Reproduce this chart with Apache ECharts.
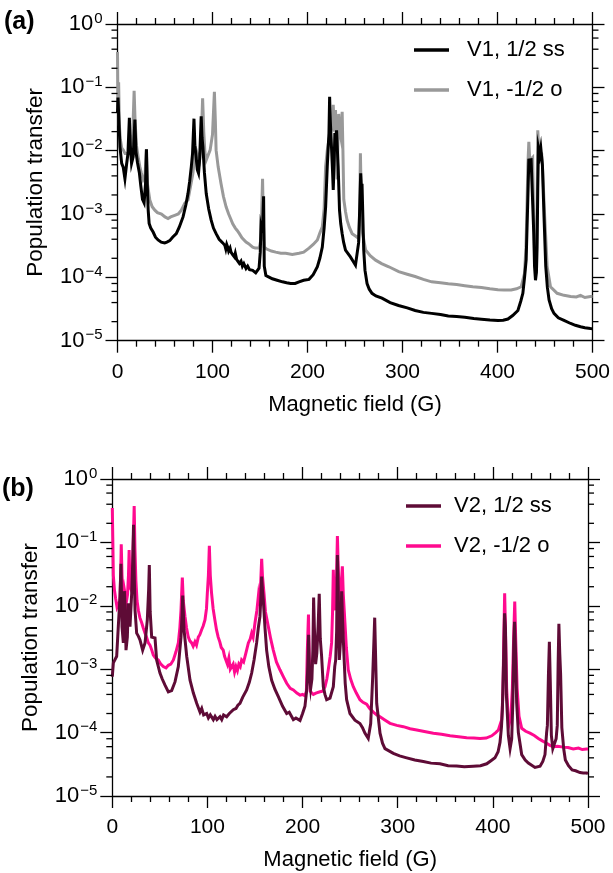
<!DOCTYPE html>
<html>
<head>
<meta charset="utf-8">
<script src="https://cdn.jsdelivr.net/npm/echarts@6/dist/echarts.min.js"></script>
<style>
  html, body { margin: 0; padding: 0; background: #fff; }
  #chart { width: 613px; height: 873px; }
</style>
</head>
<body>
<div id="chart"></div>
<script>
// Population transfer vs magnetic field, [field (G), transfer] pairs.
const v1_ss = [[0,0.04],[0.5,0.069],[1.5,0.03],[2.6,0.0115],[4.4,0.0063],[6,0.0055],[7.8,0.0036],[9.5,0.006],[11,0.009],[12.5,0.033],[13.5,0.012],[14.8,0.0063],[16.5,0.008],[18.3,0.031],[19.5,0.0095],[21,0.0065],[23,0.0045],[24.5,0.0028],[26.3,0.0017],[28,0.0015],[29.5,0.003],[30.5,0.0105],[31.3,0.003],[32.3,0.00115],[33.3,0.00071],[35,0.0006],[37.5,0.00052],[40,0.00043],[42.7,0.00039],[46,0.00036],[49.7,0.00035],[52,0.00036],[55,0.00038],[58,0.00043],[61.9,0.00049],[65,0.00062],[69,0.0009],[72,0.0014],[74.2,0.0021],[76,0.0033],[77.7,0.0056],[79,0.009],[80.5,0.032],[81.5,0.012],[82.9,0.0076],[84,0.005],[85.3,0.0044],[86.5,0.0075],[88.1,0.035],[89,0.016],[89.9,0.0115],[91.5,0.0045],[93.4,0.0021],[96,0.0012],[98.6,0.0008],[101,0.0006],[103.8,0.00049],[107,0.0004],[110.8,0.00035],[113,0.00032],[114,0.00028],[115,0.00033],[116,0.0003],[117,0.00026],[118.5,0.00029],[119.5,0.00025],[121,0.00023],[123,0.00021],[124,0.00024],[125.5,0.00019],[128.3,0.000166],[130,0.00018],[131.5,0.00015],[133,0.000165],[135.3,0.000138],[137,0.00015],[139,0.000132],[142.3,0.000129],[144,0.000135],[145.5,0.000118],[147.5,0.000123],[149,0.00014],[150.3,0.00025],[151,0.00063],[151.8,0.00055],[152.8,0.0006],[153.8,0.0019],[154.5,0.00015],[156.2,0.000107],[160,0.0001],[163,0.000095],[168,0.00009],[173.6,0.000085],[178,0.000082],[182.3,0.00008],[187,0.00008],[191.1,0.000085],[196,0.00009],[201.6,0.000093],[206,0.00011],[210.4,0.000147],[213,0.0002],[215.6,0.0003],[217.5,0.0006],[219.1,0.0013],[220.8,0.0056],[222.6,0.019],[223.3,0.071],[224,0.03],[225.4,0.0102],[226.3,0.005],[227.1,0.0024],[228,0.006],[228.8,0.019],[229.7,0.012],[230.6,0.021],[231.5,0.01],[232.3,0.0056],[233.7,0.00115],[235,0.0007],[236.5,0.00049],[238,0.00036],[240,0.00027],[242.5,0.00024],[245.2,0.00021],[248,0.00018],[250.5,0.000156],[252.6,0.00016],[253.8,0.00035],[254.7,0.0009],[256,0.0044],[256.8,0.0025],[257.4,0.003],[258.3,0.0009],[259.2,0.00027],[260.5,0.00013],[262.7,0.00008],[265,0.000065],[267.9,0.000056],[272,0.000051],[278.4,0.000047],[287,0.00004],[295.8,0.000036],[305,0.000033],[313.3,0.00003],[322,0.000028],[330.7,0.000027],[340,0.000026],[348.2,0.0000245],[357,0.000024],[365.6,0.0000234],[375,0.0000225],[383.1,0.0000219],[392,0.0000213],[400.5,0.0000209],[406,0.000021],[411,0.000022],[416,0.000025],[421.5,0.00003],[424.5,0.000042],[426.7,0.000056],[428.5,0.0001],[430.2,0.00019],[431.9,0.00165],[433,0.0071],[434.2,0.0068],[435.4,0.0072],[437.2,0.0075],[438.2,0.00049],[439,0.00015],[440,0.00009],[441,0.00012],[441.7,0.0003],[442.4,0.0025],[443.1,0.011],[444.5,0.0085],[445.6,0.011],[447.3,0.0059],[449,0.0009],[450.8,0.00015],[452.5,0.00007],[454.3,0.000044],[457,0.000032],[459.5,0.000027],[464,0.000023],[470,0.000021],[477,0.0000187],[482,0.0000175],[487.4,0.0000166],[492,0.000016],[497.9,0.0000156],[500,0.0000155]];

const v1_o = [[0,0.36],[0.5,0.05],[1.2,0.12],[2,0.025],[3,0.015],[4.5,0.011],[6.1,0.0102],[8,0.009],[10,0.0085],[12,0.009],[14,0.011],[16,0.018],[17.5,0.088],[18.5,0.03],[20,0.012],[22,0.0075],[23.5,0.0056],[25,0.0045],[27,0.0035],[29,0.004],[30.3,0.0105],[31.5,0.003],[34,0.00166],[36.5,0.0013],[39.3,0.00115],[42,0.00105],[46.3,0.001],[50,0.0009],[53.2,0.00085],[56,0.0009],[60.2,0.00095],[64,0.001],[67.2,0.00115],[71,0.0015],[74.2,0.00166],[77,0.0028],[79.4,0.0044],[81,0.0075],[82.9,0.0102],[84.5,0.0085],[86.4,0.0071],[88,0.012],[89.6,0.067],[90.8,0.02],[92,0.0095],[93.4,0.0071],[95,0.0075],[97.5,0.0102],[100,0.018],[102,0.085],[103,0.03],[103.8,0.0102],[106,0.0055],[109,0.003],[111.5,0.0019],[114.3,0.0013],[117,0.001],[119,0.00085],[121.3,0.0007],[124,0.0006],[126,0.00055],[128.3,0.00049],[131,0.00042],[133,0.0004],[135.3,0.00036],[138,0.00034],[140,0.00032],[142.3,0.0003],[145,0.00029],[147,0.0003],[149.3,0.00029],[151,0.0004],[152.7,0.0036],[153.5,0.0008],[154.5,0.0003],[157,0.00028],[162,0.00026],[166.5,0.00025],[172,0.00024],[177,0.00024],[184,0.00023],[191.1,0.00024],[196,0.00025],[201.6,0.00029],[206,0.00033],[210.4,0.00039],[213,0.0005],[215.6,0.00063],[217.5,0.0012],[219.1,0.0056],[220.8,0.01],[222.5,0.015],[224.5,0.02],[226,0.025],[227.1,0.053],[228.3,0.02],[229.5,0.044],[230.5,0.012],[231.2,0.0035],[232,0.012],[232.9,0.038],[234,0.02],[235.5,0.015],[236.5,0.041],[237.3,0.01],[238.2,0.0017],[240,0.0011],[241.7,0.0008],[244,0.00062],[247,0.00049],[250.5,0.00045],[254,0.00041],[255,0.0012],[255.7,0.0091],[256.8,0.0012],[258,0.0005],[261.2,0.00027],[266,0.00022],[271.7,0.000187],[278,0.000165],[285.6,0.000147],[296,0.000123],[305,0.000112],[313.3,0.000103],[322,0.000093],[330.7,0.000085],[340,0.000082],[348.2,0.000079],[357,0.000077],[365.6,0.000074],[374,0.000071],[383.1,0.000069],[392,0.000066],[400.5,0.000064],[407,0.000063],[414.4,0.000063],[420,0.000066],[424.9,0.000071],[428.4,0.000115],[430,0.0003],[431.2,0.00166],[432,0.006],[433,0.0138],[434,0.007],[435.5,0.0072],[437,0.0078],[438,0.0011],[439,0.00025],[440.3,0.000115],[441.3,0.0004],[442.4,0.021],[443.5,0.01],[445,0.0095],[446.5,0.009],[447.3,0.006],[449.7,0.0009],[452.3,0.000147],[455.8,0.000071],[462.8,0.000056],[470,0.000052],[477,0.00005],[483,0.000049],[487.4,0.000052],[492,0.000048],[497.9,0.00005],[500,0.00005]];

const v2_ss = [[0,0.00076],[1.1,0.00126],[3,0.0013],[4.6,0.0016],[6.3,0.0047],[8.1,0.014],[9.1,0.046],[10.2,0.0047],[11.6,0.0026],[12.7,0.017],[13.4,0.0105],[14.4,0.002],[15.8,0.0032],[16.9,0.011],[18,0.0105],[18.6,0.0047],[20.4,0.016],[21.5,0.05],[22.3,0.19],[23.1,0.03],[23.9,0.0085],[25.6,0.0037],[27.5,0.0033],[29.1,0.0029],[31.9,0.002],[34.4,0.0026],[36.8,0.006],[38.2,0.018],[38.9,0.044],[39.8,0.008],[41.4,0.0032],[43,0.0034],[44.9,0.0031],[46.6,0.0014],[50.1,0.00087],[52.5,0.0007],[55.4,0.00056],[58.9,0.00044],[62.4,0.00046],[65.9,0.00063],[69.4,0.0011],[72.2,0.0032],[73.3,0.007],[74,0.0145],[74.8,0.007],[75.4,0.0042],[78.2,0.0016],[81.7,0.00067],[85.2,0.00042],[88.7,0.00029],[92.2,0.00021],[94,0.00024],[96,0.00019],[99.2,0.0002],[101,0.00017],[103,0.00019],[106.2,0.00016],[108,0.00018],[110,0.00016],[113.2,0.000178],[115,0.00016],[117,0.00019],[120.2,0.000178],[123,0.0002],[125,0.00019],[127.2,0.00023],[130,0.00024],[132,0.00027],[134.2,0.00029],[137,0.00036],[139,0.00035],[141.2,0.00047],[144,0.00062],[146.5,0.00087],[149,0.0014],[151.7,0.0026],[153.5,0.0045],[155.2,0.0068],[156.3,0.015],[157,0.029],[157.8,0.018],[158.7,0.0123],[160.5,0.0045],[162.2,0.002],[164.5,0.0011],[167.5,0.00067],[171,0.00048],[174.5,0.00037],[179,0.00026],[183.3,0.0002],[186,0.00021],[190.3,0.00016],[193,0.00017],[197.3,0.000155],[200,0.0002],[202.5,0.00026],[204.5,0.0005],[205.5,0.0011],[206.3,0.0035],[207.3,0.0008],[208.5,0.0005],[209.8,0.0007],[210.8,0.002],[211.6,0.0135],[212.4,0.0045],[213.7,0.0012],[215,0.0018],[216.4,0.005],[217.5,0.0155],[218.6,0.003],[220,0.0016],[221.8,0.00053],[223.5,0.0004],[225.3,0.00033],[228.8,0.00035],[232.3,0.00053],[233.8,0.0011],[234.8,0.0014],[235.8,0.004],[236.6,0.063],[237.4,0.02],[238.6,0.0014],[240,0.003],[241.1,0.017],[242,0.006],[243.4,0.0018],[244.8,0.0006],[246.3,0.00033],[249.8,0.0002],[255,0.000157],[260.3,0.000139],[263,0.00012],[265.5,0.000098],[269,0.000081],[271.6,0.000139],[273.7,0.00076],[275.2,0.0035],[275.8,0.0065],[276.6,0.002],[277.9,0.00029],[281.4,0.000098],[284,0.000068],[286.6,0.000056],[295.4,0.000047],[302,0.000043],[309.4,0.00004],[318,0.000037],[326.9,0.000035],[335,0.000033],[344.4,0.0000322],[353,0.00003],[361.9,0.0000297],[370,0.000029],[379.4,0.0000295],[387,0.00003],[393.5,0.0000322],[398,0.000036],[402.2,0.00004],[405.5,0.00005],[407.5,0.00007],[409,0.00012],[410,0.00023],[411.2,0.0012],[412.3,0.0076],[413.2,0.0045],[414.2,0.0004],[416.3,0.00009],[418.1,0.000056],[419.8,0.00008],[421,0.0003],[422,0.0025],[422.8,0.0056],[423.8,0.002],[425,0.0003],[426.8,0.0001],[430.3,0.000045],[434,0.000037],[437.3,0.000033],[444.3,0.0000282],[449.6,0.0000295],[452.5,0.000035],[454.8,0.000045],[456.5,0.0001],[457.3,0.00013],[458.4,0.0008],[459.4,0.0027],[460.3,0.0007],[461.5,0.00009],[463,0.000056],[465,0.000057],[466.5,0.00008],[467.7,0.00013],[468.6,0.0012],[469.4,0.0052],[470.3,0.0018],[471.2,0.00085],[472.5,0.00012],[474.5,0.000055],[476.2,0.000037],[479.5,0.00003],[483.3,0.0000257],[487,0.000025],[491.6,0.0000234],[495,0.000023],[498.7,0.000023],[500,0.0000225]];

const v2_o = [[0,0.35],[0.5,0.12],[1.1,0.03],[2.2,0.018],[3.5,0.013],[5,0.0095],[6.5,0.009],[8,0.012],[8.8,0.03],[9.4,0.093],[10.2,0.03],[11.5,0.012],[12.7,0.018],[13.6,0.015],[14.6,0.011],[16,0.015],[17,0.03],[17.7,0.076],[18.6,0.02],[19.8,0.018],[21,0.03],[22.2,0.12],[23,0.375],[23.8,0.08],[24.8,0.025],[26,0.012],[27.4,0.0085],[29,0.0065],[30.9,0.0054],[32.5,0.0045],[34.4,0.0037],[36,0.0032],[37.9,0.0026],[39.6,0.0024],[41.5,0.002],[43.1,0.00167],[45.5,0.0015],[48.4,0.0014],[51,0.0012],[53.6,0.0011],[56.5,0.00105],[58.9,0.00115],[61.5,0.0012],[64.2,0.0014],[67,0.0019],[69.4,0.0026],[71,0.0045],[72.2,0.0085],[73.6,0.028],[74.6,0.012],[76.4,0.0068],[78,0.0045],[79.9,0.0032],[81.5,0.0028],[83.4,0.0026],[85,0.0023],[86.9,0.0027],[88.5,0.0024],[90.4,0.0032],[92,0.0035],[93.9,0.0042],[95.5,0.0048],[97.4,0.006],[99,0.009],[99.9,0.016],[101,0.03],[102,0.088],[103,0.03],[104.3,0.016],[106,0.009],[107.8,0.006],[109.5,0.0042],[111.3,0.0032],[113,0.0027],[114.5,0.0022],[116.6,0.002],[118,0.0016],[119.5,0.0017],[121,0.0012],[122.5,0.0015],[124,0.001],[125.5,0.00095],[127,0.0012],[128.5,0.0009],[130,0.0011],[131.5,0.00095],[133,0.0012],[134.5,0.0011],[136,0.0014],[138,0.0013],[140,0.0017],[141.2,0.0018],[143,0.0026],[145,0.003],[146.5,0.0037],[148,0.0032],[150,0.0054],[152,0.0085],[153.5,0.014],[154.6,0.01],[155.8,0.02],[157,0.055],[157.8,0.03],[159.4,0.016],[161,0.008],[164,0.0047],[166.5,0.003],[169.2,0.002],[172.5,0.0013],[176.2,0.00098],[180,0.00075],[183.3,0.0006],[187,0.0005],[190.3,0.00047],[194,0.00042],[197.3,0.00039],[200,0.0004],[202.5,0.00038],[204,0.00045],[205,0.002],[206.2,0.0073],[207,0.0015],[208,0.00045],[211.3,0.0004],[214,0.00042],[218.3,0.00044],[221,0.00045],[223.6,0.00053],[225.5,0.0007],[227,0.00098],[229,0.0016],[230.5,0.0026],[231.5,0.008],[232.3,0.037],[233.2,0.012],[234.1,0.0085],[235.5,0.02],[236.6,0.126],[237.5,0.04],[238.5,0.015],[239.4,0.01],[240.5,0.02],[241.8,0.042],[242.8,0.015],[244.5,0.0055],[246,0.0022],[248,0.00098],[250.5,0.0007],[253.3,0.00053],[256.5,0.00042],[260.3,0.00033],[263.5,0.0003],[267.3,0.00028],[270.5,0.00024],[274.4,0.00021],[278,0.00019],[281.4,0.000178],[286,0.00016],[291.9,0.00014],[299,0.00013],[305.9,0.000124],[313,0.000115],[320,0.00011],[328,0.000104],[337.5,0.000098],[346,0.000094],[355,0.000089],[364,0.000086],[372.5,0.000083],[380,0.000082],[386.5,0.000081],[393,0.000082],[398.8,0.000089],[403,0.0001],[405.8,0.00011],[408,0.00014],[409.3,0.00016],[410.5,0.0004],[411.5,0.003],[412.4,0.0158],[413.3,0.004],[414.5,0.0005],[416,0.00018],[417.3,0.00014],[419,0.00018],[420.5,0.0005],[421.8,0.003],[423,0.0117],[424,0.003],[425.5,0.0005],[427.5,0.00018],[430.3,0.000117],[434.5,0.000105],[439,0.000098],[443.5,0.00009],[447.8,0.000081],[452,0.000074],[456.5,0.000068],[460,0.000063],[463.5,0.00006],[468,0.000061],[474,0.000059],[479,0.000058],[484.5,0.000055],[490,0.000057],[494,0.000054],[498.6,0.000055],[500,0.000055]];

const seriesNames = ['V1, 1/2 ss', 'V1, -1/2 o', 'V2, 1/2 ss', 'V2, -1/2 o'];
const seriesColors = ['#000000', '#999999', '#5e0b36', '#ff0a8f'];
const panelLabels = ['(a)', '(b)'];
const xTitle = 'Magnetic field (G)';
const yTitle = 'Population transfer';
const fieldMin = 0, fieldMax = 500, fieldStep = 100;
const yMin = 1e-5, yMax = 1;
// intermediate tick values inside each decade
const minorMantissas = [2, 4, 6, 8];
const decades = [-5, -4, -3, -2, -1];

const FONT = 'Liberation Sans, Arial, Helvetica, sans-serif';
const INK = '#000';

const minorTickData = [];
decades.forEach(d => minorMantissas.forEach(m => minorTickData.push([0, m * Math.pow(10, d)])));

function expLabel(v) {
  const e = Math.round(Math.log10(v));
  return '{b|10}{s|' + (e < 0 ? '\u2212' + (-e) : e) + '}';
}

const grids = [
  { left: 117.5, width: 477.5, top: 24, height: 316.7 },
  { left: 112.3, width: 475.7, top: 479, height: 317 }
];

const xAxes = [], yAxes = [];
grids.forEach((g, i) => {
  const common = {
    gridIndex: i, type: 'value', min: fieldMin, max: fieldMax, interval: fieldStep,
    axisLine: { show: true, onZero: false, lineStyle: { color: INK, width: 1.3 } },
    axisTick: { show: true, inside: false, length: 12, lineStyle: { color: INK, width: 1.3 } },
    minorTick: { show: true, splitNumber: 5, length: 6, lineStyle: { color: INK, width: 1.3 } },
    splitLine: { show: false }
  };
  xAxes.push(Object.assign({}, common, {
    position: 'bottom',
    name: xTitle, nameLocation: 'middle', nameGap: 53,
    nameTextStyle: { fontFamily: FONT, fontSize: 22, color: INK },
    axisLabel: { fontFamily: FONT, fontSize: 21, color: INK, margin: 21 }
  }));
  xAxes.push(Object.assign({}, common, { position: 'top', axisLabel: { show: false } }));
  const ycommon = {
    gridIndex: i, type: 'log', logBase: 10, min: yMin, max: yMax, splitNumber: 5,
    axisLine: { show: true, onZero: false, lineStyle: { color: INK, width: 1.3 } },
    axisTick: { show: true, inside: false, length: 12, lineStyle: { color: INK, width: 1.3 } },
    splitLine: { show: false }
  };
  yAxes.push(Object.assign({}, ycommon, {
    position: 'left',
    name: yTitle, nameLocation: 'middle', nameGap: 70,
    nameTextStyle: { fontFamily: FONT, fontSize: 22.5, color: INK },
    axisLabel: {
      margin: 15, formatter: expLabel,
      rich: {
        b: { fontFamily: FONT, fontSize: 22, color: INK, lineHeight: 26 },
        s: { fontFamily: FONT, fontSize: 15, color: INK, lineHeight: 26, verticalAlign: 'top', padding: [0, 0, 0, 1] }
      }
    }
  }));
  yAxes.push(Object.assign({}, ycommon, { position: 'right', axisLabel: { show: false } }));
});

function minorTicks(gi) {
  return {
    type: 'custom', xAxisIndex: gi * 2, yAxisIndex: gi * 2, silent: true, clip: false,
    data: minorTickData, z: 5,
    renderItem: function (params, api) {
      const v = api.value(1);
      const l = api.coord([fieldMin, v]);
      const r = api.coord([fieldMax, v]);
      const st = { stroke: INK, lineWidth: 1.3 };
      return {
        type: 'group', children: [
          { type: 'line', shape: { x1: l[0] - 6, y1: l[1], x2: l[0], y2: l[1] }, style: st },
          { type: 'line', shape: { x1: r[0], y1: r[1], x2: r[0] + 6, y2: r[1] }, style: st }
        ]
      };
    }
  };
}

function lineSeries(name, data, color, gi, z) {
  return {
    name: name, type: 'line', data: data, xAxisIndex: gi * 2, yAxisIndex: gi * 2,
    showSymbol: false, symbol: 'none', z: z, animation: false,
    lineStyle: { color: color, width: 3, join: 'miter' }, itemStyle: { color: color }
  };
}

const legendBase = {
  orient: 'vertical', icon: 'rect', itemWidth: 35, itemHeight: 3.5, itemGap: 18
};

const option = {
  animation: false,
  grid: grids,
  xAxis: xAxes,
  yAxis: yAxes,
  legend: [
    Object.assign({}, legendBase, {
      data: [seriesNames[0], seriesNames[1]], left: 409, top: 34,
      textStyle: { fontFamily: FONT, fontSize: 22, color: INK, padding: [0, 0, 0, 13] }
    }),
    Object.assign({}, legendBase, {
      data: [seriesNames[2], seriesNames[3]], left: 401, top: 490,
      textStyle: { fontFamily: FONT, fontSize: 22, color: INK, padding: [0, 0, 0, 8] }
    })
  ],
  graphic: [
    { type: 'text', left: 4, top: 10, style: { text: panelLabels[0], font: 'bold 25px ' + FONT, fill: INK } },
    { type: 'text', left: 2, top: 477, style: { text: panelLabels[1], font: 'bold 25px ' + FONT, fill: INK } }
  ],
  series: [
    lineSeries(seriesNames[1], v1_o, seriesColors[1], 0, 2),
    lineSeries(seriesNames[0], v1_ss, seriesColors[0], 0, 3),
    lineSeries(seriesNames[3], v2_o, seriesColors[3], 1, 2),
    lineSeries(seriesNames[2], v2_ss, seriesColors[2], 1, 3),
    minorTicks(0),
    minorTicks(1)
  ]
};

const chart = echarts.init(document.getElementById('chart'), null, { renderer: 'canvas' });
chart.setOption(option);
</script>
</body>
</html>
